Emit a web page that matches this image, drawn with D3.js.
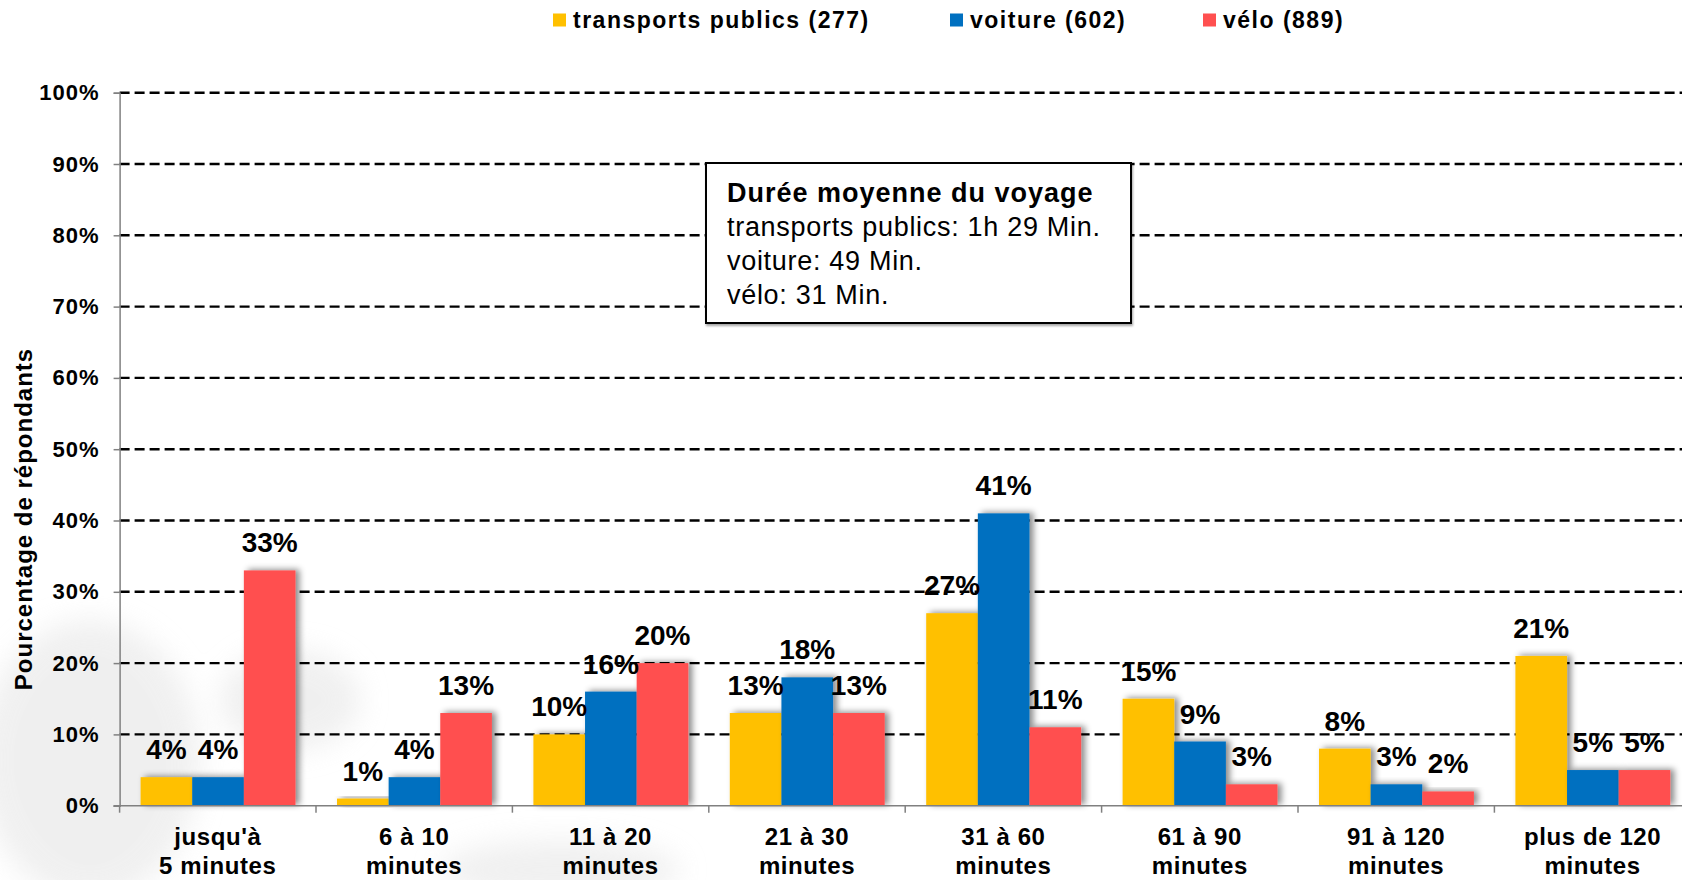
<!DOCTYPE html>
<html>
<head>
<meta charset="utf-8">
<script src="https://cdn.jsdelivr.net/npm/d3@7"></script>
<style>
  html, body { margin: 0; padding: 0; background: #fff; }
  svg { display: block; font-family: "Liberation Sans", Arial, sans-serif; }
</style>
</head>
<body>
<svg id="chart" width="1682" height="880"></svg>
<script>
// categories and series
const categories = [
    ['jusqu\'à', '5 minutes'],
    ['6 à 10', 'minutes'],
    ['11 à 20', 'minutes'],
    ['21 à 30', 'minutes'],
    ['31 à 60', 'minutes'],
    ['61 à 90', 'minutes'],
    ['91 à 120', 'minutes'],
    ['plus de 120', 'minutes'],
];
const seriesNames = ['transports publics (277)', 'voiture (602)', 'vélo (889)'];
const seriesColors = ['#FFC000', '#0070C0', '#FF5050'];
const transportsPublics = [4, 1, 10, 13, 27, 15, 8, 21];
const voiture = [4, 4, 16, 18, 41, 9, 3, 5];
const velo = [33, 13, 20, 13, 11, 3, 2, 5];
const yTicks = [0, 10, 20, 30, 40, 50, 60, 70, 80, 90, 100];
const boxTitle = 'Durée moyenne du voyage';
const boxLines = ['transports publics: 1h 29 Min.', 'voiture: 49 Min.', 'vélo: 31 Min.'];

const series = [transportsPublics, voiture, velo];

const svg = d3.select('#chart');

// plot area runs past the right edge of the picture, like the original
const x0 = d3.scaleBand().domain(d3.range(categories.length)).range([119.6, 1690.8]).paddingInner(0).paddingOuter(0);
const x1 = d3.scaleBand().domain(d3.range(series.length)).range([21, x0.bandwidth() - 20.5]);
const y = d3.scaleLinear().domain([0, 100]).range([805.7, 92.7]);

const defs = svg.append('defs');
const shadow = defs.append('filter').attr('id', 'shadow')
    .attr('x', '-30%').attr('y', '-30%').attr('width', '170%').attr('height', '160%');
shadow.append('feDropShadow')
    .attr('dx', 4).attr('dy', -1).attr('stdDeviation', 3)
    .attr('flood-color', '#000').attr('flood-opacity', 0.45);

const boxShadow = defs.append('filter').attr('id', 'boxshadow')
    .attr('x', '-5%').attr('y', '-5%').attr('width', '110%').attr('height', '115%');
boxShadow.append('feDropShadow')
    .attr('dx', 1).attr('dy', 2).attr('stdDeviation', 1)
    .attr('flood-color', '#000').attr('flood-opacity', 0.35);

// faint watermark in the background, bottom left
const blur = defs.append('filter').attr('id', 'wm');
blur.append('feGaussianBlur').attr('stdDeviation', 14);
const wm = svg.append('g').attr('filter', 'url(#wm)').attr('fill', '#e6e6e6').attr('opacity', 0.6);
wm.append('ellipse').attr('cx', 90).attr('cy', 760).attr('rx', 110).attr('ry', 140);
wm.append('ellipse').attr('cx', 290).attr('cy', 700).attr('rx', 70).attr('ry', 50);
wm.append('ellipse').attr('cx', 560).attr('cy', 870).attr('rx', 120).attr('ry', 30);

// dashed gridlines
svg.append('g')
    .selectAll('line')
    .data(yTicks.filter(d => d > 0))
    .join('line')
    .attr('x1', x0.range()[0])
    .attr('x2', x0.range()[1])
    .attr('y1', d => y(d))
    .attr('y2', d => y(d))
    .attr('stroke', '#000')
    .attr('stroke-width', 2.4)
    .attr('stroke-dasharray', '10,5');

// y axis
const yAxis = svg.append('g')
    .attr('transform', `translate(${x0.range()[0]},0)`)
    .call(d3.axisLeft(y).tickValues(yTicks).tickSize(6).tickPadding(14).tickFormat(d => d + '%'));
yAxis.select('.domain').attr('stroke', '#808080').attr('stroke-width', 1.5);
yAxis.selectAll('.tick line').attr('stroke', '#808080').attr('stroke-width', 1.5);
yAxis.selectAll('.tick text')
    .attr('fill', '#000')
    .attr('font-size', 22)
    .attr('font-weight', 'bold')
    .attr('letter-spacing', 1)
    .attr('font-family', '"Liberation Sans", Arial, sans-serif');

// bars
const groups = svg.append('g')
    .selectAll('g')
    .data(categories.map((c, i) => i))
    .join('g')
    .attr('transform', i => `translate(${x0(i)},0)`);

groups.selectAll('rect')
    .data(i => series.map((s, k) => ({ k, v: s[i] })))
    .join('rect')
    .attr('x', d => x1(d.k))
    .attr('width', x1.bandwidth())
    .attr('y', d => y(d.v))
    .attr('height', d => y(0) - y(d.v))
    .attr('fill', d => seriesColors[d.k])
    .attr('filter', 'url(#shadow)');

// x axis
const xAxis = svg.append('g')
    .attr('transform', `translate(0,${y(0)})`);
xAxis.append('line')
    .attr('x1', x0.range()[0] - 6)
    .attr('x2', x0.range()[1])
    .attr('stroke', '#808080')
    .attr('stroke-width', 1.5);
xAxis.selectAll('line.tk')
    .data(d3.range(categories.length + 1))
    .join('line')
    .attr('class', 'tk')
    .attr('x1', i => x0.range()[0] + i * x0.step())
    .attr('x2', i => x0.range()[0] + i * x0.step())
    .attr('y1', 0)
    .attr('y2', 7)
    .attr('stroke', '#808080')
    .attr('stroke-width', 1.5);

const catLabels = svg.append('g')
    .selectAll('text')
    .data(categories)
    .join('text')
    .attr('text-anchor', 'middle')
    .attr('font-size', 24)
    .attr('font-weight', 'bold')
    .attr('letter-spacing', 0.6)
    .attr('fill', '#000');
catLabels.selectAll('tspan')
    .data((c, i) => c.map((t, j) => ({ t, j, i })))
    .join('tspan')
    .attr('x', d => x0(d.i) + x0.bandwidth() / 2)
    .attr('y', d => 845 + d.j * 28.5)
    .text(d => d.t);

// value labels
groups.selectAll('text.val')
    .data(i => series.map((s, k) => ({ k, v: s[i] })))
    .join('text')
    .attr('class', 'val')
    .attr('x', d => x1(d.k) + x1.bandwidth() / 2)
    .attr('y', d => y(d.v) - 18)
    .attr('text-anchor', 'middle')
    .attr('font-size', 28)
    .attr('font-weight', 'bold')
    .attr('fill', '#000')
    .text(d => d.v + '%');

// y axis title
svg.append('text')
    .attr('transform', 'translate(32,519) rotate(-90)')
    .attr('text-anchor', 'middle')
    .attr('font-size', 24)
    .attr('font-weight', 'bold')
    .attr('letter-spacing', 1)
    .text('Pourcentage de répondants');

// legend
const legendX = [553, 950, 1203];
const legend = svg.append('g')
    .selectAll('g')
    .data(seriesNames)
    .join('g')
    .attr('transform', (d, i) => `translate(${legendX[i]},0)`);
legend.append('rect')
    .attr('x', 0).attr('y', 13.5)
    .attr('width', 13).attr('height', 13)
    .attr('fill', (d, i) => seriesColors[i]);
legend.append('text')
    .attr('x', 20).attr('y', 27.5)
    .attr('font-size', 23)
    .attr('font-weight', 'bold')
    .attr('letter-spacing', 1.5)
    .text(d => d);

// info box
const box = svg.append('g');
box.append('rect')
    .attr('x', 706).attr('y', 163)
    .attr('width', 425).attr('height', 160)
    .attr('fill', '#fff')
    .attr('stroke', '#000')
    .attr('stroke-width', 2)
    .attr('filter', 'url(#boxshadow)');
box.append('text')
    .attr('x', 727).attr('y', 202)
    .attr('font-size', 27)
    .attr('font-weight', 'bold')
    .attr('letter-spacing', 1)
    .text(boxTitle);
box.selectAll('text.ln')
    .data(boxLines)
    .join('text')
    .attr('class', 'ln')
    .attr('x', 727)
    .attr('y', (d, i) => 236 + i * 34)
    .attr('font-size', 27)
    .attr('letter-spacing', 0.7)
    .text(d => d);
</script>
</body>
</html>
